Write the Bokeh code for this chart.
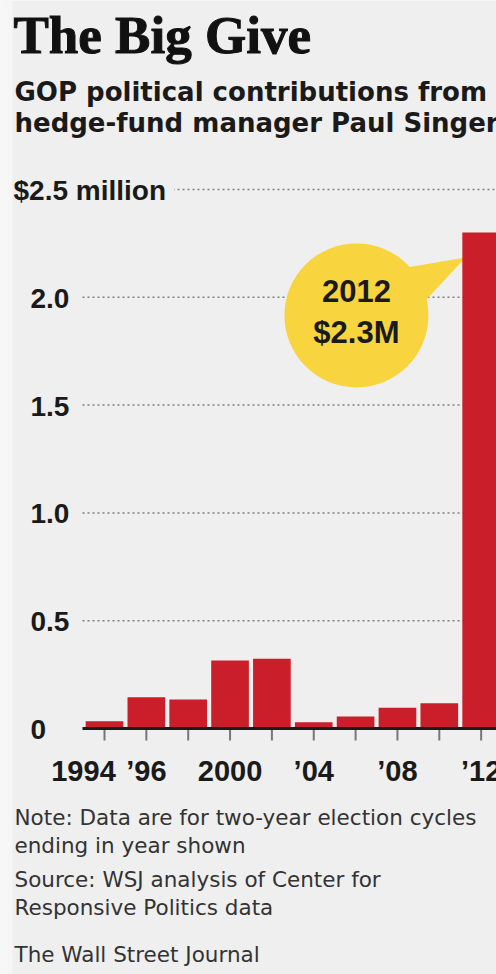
from bokeh.plotting import figure
from bokeh.models import Range1d, Label, ColumnDataSource, BoxAnnotation
from bokeh.embed import file_html
from bokeh.resources import INLINE

# ---- data ----
cycles = ["1994", "1996", "1998", "2000", "2002", "2004", "2006", "2008", "2010", "2012"]
contributions = [0.034, 0.145, 0.135, 0.315, 0.323, 0.029, 0.056, 0.096, 0.117, 2.3]  # $ million
x_tick_labels = ["1994", "\u201996", "", "2000", "", "\u201904", "", "\u201908", "", "\u201912"]
y_ticks = [0, 0.5, 1.0, 1.5, 2.0, 2.5]
y_tick_labels = ["0", "0.5", "1.0", "1.5", "2.0", "$2.5 million"]

title = "The Big Give"
subtitle = ["GOP political contributions from", "hedge-fund manager Paul Singer"]
footer = ["Note: Data are for two-year election cycles", "ending in year shown",
          "Source: WSJ analysis of Center for", "Responsive Politics data",
          "The Wall Street Journal"]
callout = ["2012", "$2.3M"]

# ---- layout / style ----
W, H = 496, 974
AXIS_Y = 728     # px of the zero line from the top
BAR0_X = 104     # px of the first bar centre
PITCH = 41.85    # px per cycle
SCALE = 215.6    # px per $1M
BG = "#efefef"
RED = "#ca1f2a"
YELLOW = "#f8d43f"
INK = "#1a1a1a"

X0 = -BAR0_X / PITCH                 # data x at the left edge
X1 = (W - BAR0_X) / PITCH            # data x at the right edge
Y0 = -(H - AXIS_Y) / SCALE           # data y at the bottom edge
Y1 = AXIS_Y / SCALE                  # data y at the top edge
XA = -22 / PITCH                     # where axis line and grid begin

p = figure(width=W, height=H, x_range=Range1d(X0, X1), y_range=Range1d(Y0, Y1),
           output_backend="svg", toolbar_location=None, min_border=0,
           x_axis_location=None, y_axis_location=None)
p.background_fill_color = BG
p.border_fill_color = BG
p.outline_line_color = None
p.grid.visible = False

idx = list(range(len(cycles)))
src = ColumnDataSource(dict(x=idx, top=contributions, cycle=cycles))
grid_y = [t for t in y_ticks if t > 0]

# dotted grid lines
p.segment(x0=[XA] * len(grid_y), x1=[X1] * len(grid_y), y0=grid_y, y1=grid_y,
          line_color="#7f7f7f", line_dash="2 3", line_width=1.5)

# callout bubble (pointer under the bar)
bx, by = 6.02, 1.916
p.patch(x=[7.073, 8.626, 7.670], y=[2.134, 2.185, 1.985], fill_color=YELLOW, line_color=None)
p.scatter(x=[bx], y=[by], size=144, fill_color=YELLOW, line_color=None)

# bars
p.vbar(x="x", top="top", width=0.9, source=src, fill_color=RED, line_color=None)

# x axis: ticks and baseline
p.segment(x0=idx, x1=idx, y0=[0] * len(idx), y1=[-12 / SCALE] * len(idx),
          line_color="#777777", line_width=2)
p.segment(x0=[XA], x1=[X1], y0=[0], y1=[0], line_color=INK, line_width=3)


def label(x, y, text, dx=0, dy=0, **kw):
    opts = dict(text_font="Liberation Sans", text_color=INK, text_baseline="middle",
                text_align="left")
    opts.update(kw)
    p.add_layout(Label(x=x, y=y, text=text, x_offset=dx, y_offset=dy, **opts))


# callout text
label(bx, by, callout[0], dy=315 - 291, text_align="center",
      text_font_style="bold", text_font_size="31px")
label(bx, by, callout[1], dy=315 - 332, text_align="center",
      text_font_style="bold", text_font_size="31px")

# y tick labels
for t, lab in zip(y_ticks, y_tick_labels):
    big = lab.startswith("$")
    extra = dict(background_fill_color=BG, padding=8) if big else {}
    label(X0, t, lab, dx=(5 if big else 30), dy=-1,
          text_font_style="bold", text_font_size="28px", **extra)

# x tick labels (text centred vertically on y = 770 px)
for i, lab in zip(idx, x_tick_labels):
    if lab:
        label(i, 0, lab, dx=(-21 if i == 0 else 0), dy=-(770 - AXIS_Y), text_align="center",
              text_font_style="bold", text_font_size="29px")

# title / subtitle
label(X0, 0, title, dx=13, dy=AXIS_Y - 34, text_font="Liberation Serif",
      text_font_style="bold", text_font_size="53px", text_color="#111111",
      text_outline_color="#111111")
for line, mid in zip(subtitle, [91.5, 122.5]):
    label(X0, 0, line, dx=14, dy=AXIS_Y - mid, text_font="DejaVu Sans",
          text_font_style="bold", text_font_size="26px")

# footer
for line, mid in zip(footer, [816.5, 844.5, 878.5, 906.5, 953.5]):
    label(X0, 0, line, dx=14, dy=-(mid - AXIS_Y), text_font="DejaVu Sans",
          text_font_size="21.5px", text_color="#333333")

# slightly lighter margin strip at the left edge (drawn last)
p.add_layout(BoxAnnotation(right=X0 + 12 / PITCH, fill_color="#f6f6f6", fill_alpha=1,
                           line_color=None, level="annotation"))

open("out.html", "w").write(file_html(p, INLINE))
